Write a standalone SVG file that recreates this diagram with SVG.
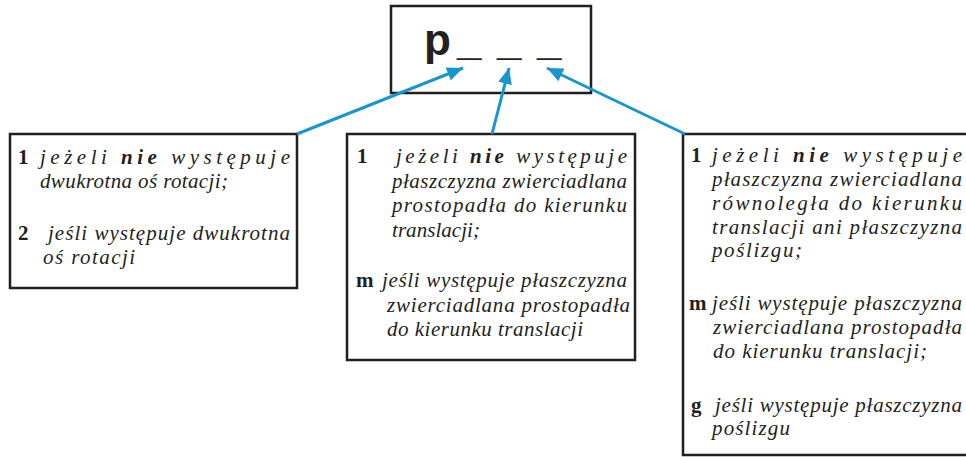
<svg xmlns="http://www.w3.org/2000/svg" width="966" height="457" viewBox="0 0 966 457">
<style>
.box{fill:#fff;stroke:#231f20;stroke-width:2.5}
.t{font-family:"Liberation Serif","Times New Roman",serif;font-size:21px;font-style:italic;fill:#231f20}
.b{font-family:"Liberation Serif","Times New Roman",serif;font-size:21px;font-weight:bold;fill:#231f20}
.bi{font-weight:bold}
.title{font-family:"Liberation Sans",Arial,sans-serif;font-size:44px;font-weight:bold;fill:#231f20}
.arr{stroke:#1a96cf;stroke-width:3;fill:none}
</style>
<defs>
<marker id="ah" markerUnits="userSpaceOnUse" markerWidth="18" markerHeight="14" refX="16" refY="7" orient="auto">
<path d="M0,0 L16,7 L0,14 Z" fill="#1a96cf"/>
</marker>
</defs>
<g id="node-top">
<rect class="box" x="391" y="6" width="200" height="87"/>
<text class="title" x="424" y="55">p<tspan x="457">_</tspan><tspan x="497">_</tspan><tspan x="537">_</tspan></text>
</g>
<g id="node-left">
<rect class="box" x="10" y="134" width="287" height="154"/>
<text class="b" x="18" y="164">1</text>
<text class="t" x="40" y="164" textLength="250" lengthAdjust="spacing">jeżeli <tspan class="bi">nie</tspan> występuje</text>
<text class="t" x="40" y="188" textLength="188" lengthAdjust="spacing">dwukrotna oś rotacji;</text>
<text class="b" x="18" y="240">2</text>
<text class="t" x="48" y="240" textLength="242" lengthAdjust="spacing">jeśli występuje dwukrotna</text>
<text class="t" x="43" y="264" textLength="92" lengthAdjust="spacing">oś rotacji</text>
</g>
<g id="node-middle">
<rect class="box" x="347" y="134" width="288" height="226"/>
<text class="b" x="357" y="163">1</text>
<text class="t" x="396" y="163" textLength="231" lengthAdjust="spacing">jeżeli <tspan class="bi">nie</tspan> występuje</text>
<text class="t" x="392" y="188" textLength="235" lengthAdjust="spacing">płaszczyzna zwierciadlana</text>
<text class="t" x="392" y="212" textLength="235" lengthAdjust="spacing">prostopadła do kierunku</text>
<text class="t" x="392" y="237" textLength="88" lengthAdjust="spacing">translacji;</text>
<text class="b" x="356" y="287">m</text>
<text class="t" x="382" y="287" textLength="245" lengthAdjust="spacing">jeśli występuje płaszczyzna</text>
<text class="t" x="387" y="312" textLength="243" lengthAdjust="spacing">zwierciadlana prostopadła</text>
<text class="t" x="387" y="336" textLength="196" lengthAdjust="spacing">do kierunku translacji</text>
</g>
<g id="node-right">
<rect class="box" x="683" y="134" width="290" height="321"/>
<text class="b" x="691" y="162">1</text>
<text class="t" x="712" y="162" textLength="250" lengthAdjust="spacing">jeżeli <tspan class="bi">nie</tspan> występuje</text>
<text class="t" x="712" y="186" textLength="250" lengthAdjust="spacing">płaszczyzna zwierciadlana</text>
<text class="t" x="712" y="210" textLength="250" lengthAdjust="spacing">równoległa do kierunku</text>
<text class="t" x="712" y="234" textLength="250" lengthAdjust="spacing">translacji ani płaszczyzna</text>
<text class="t" x="712" y="257" textLength="90" lengthAdjust="spacing">poślizgu;</text>
<text class="b" x="689" y="310">m</text>
<text class="t" x="712" y="310" textLength="250" lengthAdjust="spacing">jeśli występuje płaszczyzna</text>
<text class="t" x="713" y="334" textLength="249" lengthAdjust="spacing">zwierciadlana prostopadła</text>
<text class="t" x="713" y="358" textLength="214" lengthAdjust="spacing">do kierunku translacji;</text>
<text class="b" x="691" y="412">g</text>
<text class="t" x="715" y="412" textLength="247" lengthAdjust="spacing">jeśli występuje płaszczyzna</text>
<text class="t" x="712" y="435" textLength="78" lengthAdjust="spacing">poślizgu</text>
</g>
<g id="connectors">
<line class="arr" x1="297" y1="134" x2="463" y2="68" marker-end="url(#ah)"/>
<line class="arr" x1="492" y1="134" x2="509" y2="68" marker-end="url(#ah)"/>
<line class="arr" x1="685" y1="134" x2="547" y2="68" marker-end="url(#ah)"/>
</g>
</svg>
